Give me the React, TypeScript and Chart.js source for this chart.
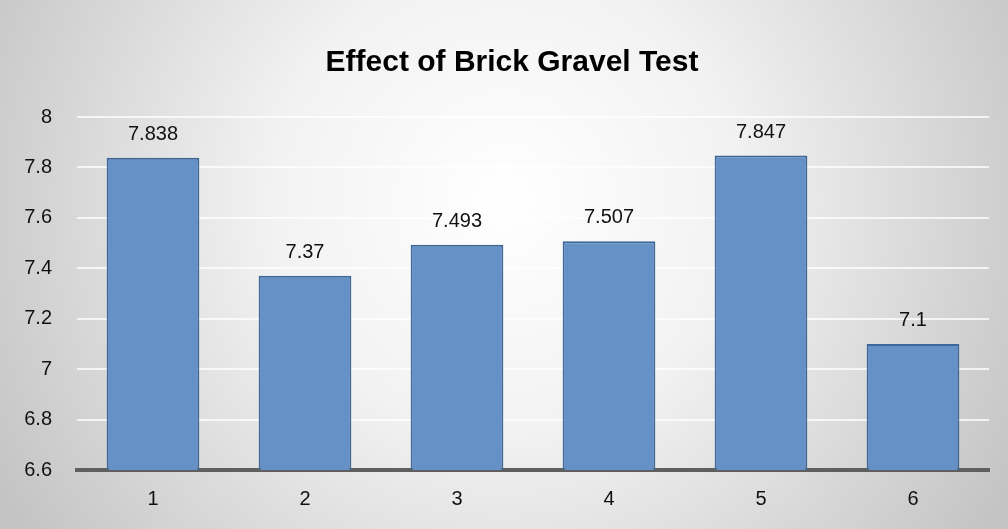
import React, { useEffect, useRef } from "react";
import { Chart, registerables } from "chart.js";

Chart.register(...registerables);

const titleText = "Effect of Brick Gravel Test";
const categories = ["1", "2", "3", "4", "5", "6"];
const values = [7.838, 7.37, 7.493, 7.507, 7.847, 7.1];
const yTicks = [6.6, 6.8, 7, 7.2, 7.4, 7.6, 7.8, 8];

const FONT = "'Liberation Sans', Arial, Helvetica, sans-serif";

const bgPlugin = {
  id: "bgPlugin",
  beforeDraw(chart: any) {
    const { ctx, width, height } = chart;
    ctx.save();
    const g = ctx.createRadialGradient(width / 2, 200, 0, width / 2, 200, 580);
    g.addColorStop(0, "#ffffff");
    g.addColorStop(0.4, "#f2f2f2");
    g.addColorStop(1, "#c4c4c4");
    ctx.fillStyle = g;
    ctx.fillRect(0, 0, width, height);
    ctx.restore();
  },
};

const titlePlugin = {
  id: "titlePlugin",
  afterDraw(chart: any) {
    const { ctx } = chart;
    ctx.save();
    ctx.font = `bold 30px ${FONT}`;
    ctx.fillStyle = "#000000";
    ctx.textAlign = "center";
    ctx.textBaseline = "alphabetic";
    ctx.fillText(titleText, 512, 71);
    ctx.restore();
  },
};

const labelPlugin = {
  id: "labelPlugin",
  afterDatasetsDraw(chart: any) {
    const { ctx } = chart;
    const meta = chart.getDatasetMeta(0);
    ctx.save();
    ctx.font = `20px ${FONT}`;
    ctx.fillStyle = "#111111";
    ctx.textAlign = "center";
    ctx.textBaseline = "alphabetic";
    meta.data.forEach((bar: any, i: number) => {
      ctx.fillText(String(values[i]), bar.x, bar.y - 18);
    });
    ctx.restore();
  },
};

export default function App() {
  const ref = useRef<HTMLCanvasElement | null>(null);
  useEffect(() => {
    if (!ref.current) return;
    const chart = new Chart(ref.current, {
      type: "bar",
      data: {
        labels: categories,
        datasets: [
          {
            data: values,
            backgroundColor: "#6591c6",
            borderColor: "#3e6799",
            borderWidth: 2,
            barPercentage: 0.61,
            categoryPercentage: 1,
          },
        ],
      },
      options: {
        responsive: false,
        animation: false,
        layout: { padding: { top: 117, right: 19, left: 0, bottom: 0 } },
        plugins: {
          legend: { display: false },
          title: { display: false },
          tooltip: { enabled: false },
        },
        scales: {
          x: {
            afterFit(scale: any) {
              scale.height = 59;
            },
            grid: { display: false, drawTicks: false },
            border: { display: true, color: "#5f5f5f", width: 4 },
            ticks: {
              color: "#111111",
              font: { family: FONT, size: 20 },
              padding: 17,
            },
          },
          y: {
            min: 6.6,
            max: 8,
            afterFit(scale: any) {
              scale.width = 77;
            },
            afterBuildTicks(scale: any) {
              scale.ticks = yTicks.map((v) => ({ value: v }));
            },
            grid: {
              color: "rgba(255,255,255,0.75)",
              lineWidth: 2,
              drawTicks: false,
            },
            border: { display: false },
            ticks: {
              color: "#111111",
              font: { family: FONT, size: 20 },
              padding: 25,
              callback: (v: any) => String(Number(Number(v).toFixed(1))),
            },
          },
        },
      },
      plugins: [bgPlugin, titlePlugin, labelPlugin],
    });
    return () => chart.destroy();
  }, []);
  return (
    <div style={{ position: "fixed", left: 0, top: 0, width: 1008, height: 529 }}>
      <canvas ref={ref} width={1008} height={529} />
    </div>
  );
}
